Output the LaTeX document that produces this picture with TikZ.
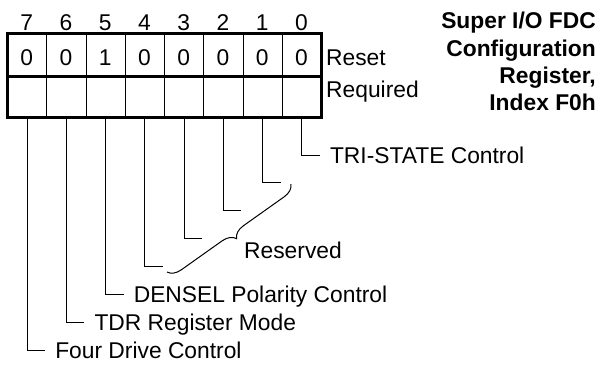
\documentclass[tikz,border=0pt]{standalone}
\usepackage{fontspec}
\setmainfont{Liberation Sans}
\usetikzlibrary{decorations.pathreplacing,calc}
\begin{document}
\begin{tikzpicture}[x=1pt,y=-1pt,
  txt/.style={font=\fontsize{22.8}{27.3}\selectfont, inner sep=0pt},
  cellbox/.style={draw, line width=0.9pt, minimum width=39.25pt, inner sep=0pt, anchor=north west},
  outerline/.style={line width=3pt},
  lead/.style={line width=1pt},
  lbl/.style={txt, anchor=base west},
  bracestyle/.style={line width=1pt, decorate, decoration={brace, amplitude=13pt}},
]
\useasboundingbox (0,0) rectangle (603,367);
% cells
\foreach \b [count=\i from 0] in {7,6,5,4,3,2,1,0} {
  \node[cellbox, minimum height=42.5pt] (r\b) at ({7+\i*39.25},33.5) {};
  \node[cellbox, minimum height=41pt] (q\b) at ({7+\i*39.25},76) {};
  \node[txt, anchor=base] (v\b) at ({26.6+\i*39.25},65) {\ifnum\b=5 1\else 0\fi};
  \node[txt, anchor=base] (n\b) at ({26.6+\i*39.25},30) {\b};
}
\draw[outerline] (r7.north west) rectangle (q0.south east);
\draw[outerline] (r7.south west) -- (r0.south east);
\node[lbl] (reset) at (326,65) {Reset};
\node[lbl] (req) at (326,97) {Required};
% title
\node[txt, font=\fontsize{22.8}{27.3}\selectfont\bfseries, align=right, anchor=north east] (title) at (596,12)
  {Super I/O FDC\\Configuration\\Register,\\Index F0h};
% leaders
\foreach \b in {0,...,7} {
  \coordinate (e\b) at ({26.6+(7-\b)*39.25+18.5},{155+27.9*\b});
  \draw[lead] (q\b.south) |- (e\b);
}
\node[lbl] (l0) at ($(e0)+(10,8.2)$) {TRI-STATE Control};
\node[lbl] (l5) at ($(e5)+(10,8.2)$) {DENSEL Polarity Control};
\node[lbl] (l6) at ($(e6)+(10,8.2)$) {TDR Register Mode};
\node[lbl] (l7) at ($(e7)+(10,8.2)$) {Four Drive Control};
% brace
\coordinate (ba) at (291,184);
\coordinate (bb) at (167,272);
\draw[bracestyle] (ba) -- (bb);
\node[lbl] (resv) at (244,258) {Reserved};
\end{tikzpicture}
\end{document}
